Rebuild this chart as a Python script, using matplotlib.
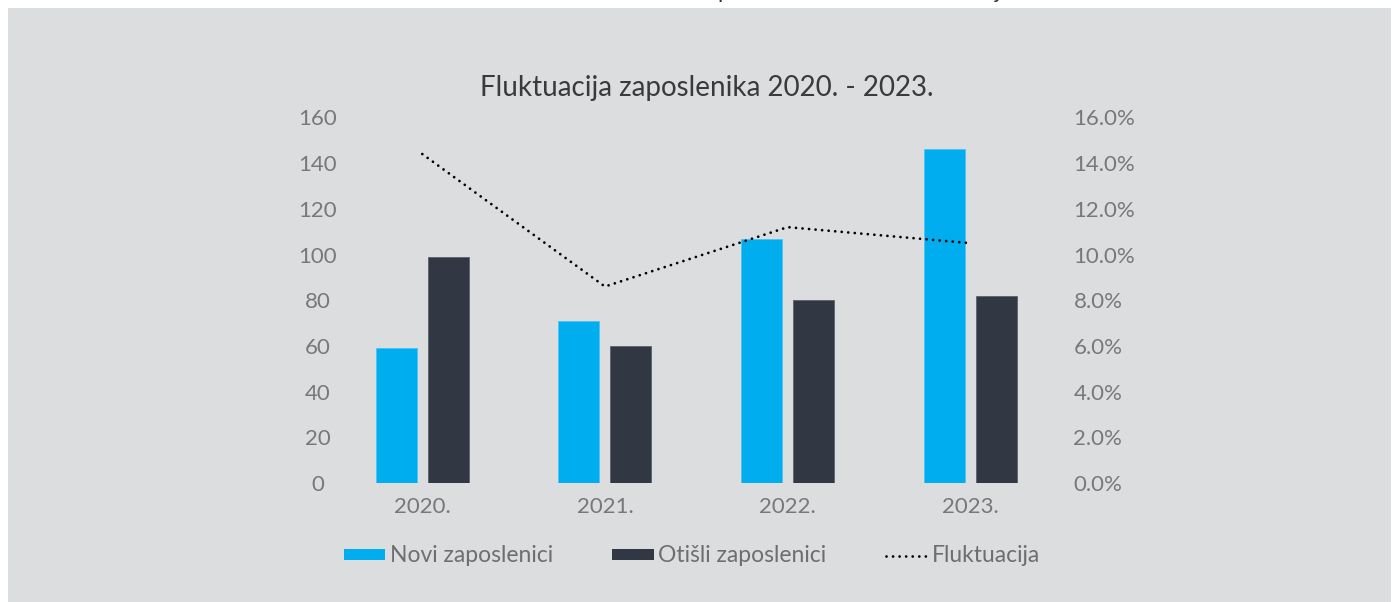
import matplotlib
matplotlib.use("Agg")
import matplotlib.pyplot as plt
from matplotlib.patches import Rectangle
from matplotlib.lines import Line2D
import numpy as np

# ---- data ----
years = ["2020.", "2021.", "2022.", "2023."]
novi_zaposlenici = [59, 71, 107, 146]
otisli_zaposlenici = [99, 60, 80, 82]
fluktuacija = [0.144, 0.086, 0.112, 0.105]
left_ticks = [0, 20, 40, 60, 80, 100, 120, 140, 160]
right_ticks = [0.0, 0.02, 0.04, 0.06, 0.08, 0.10, 0.12, 0.14, 0.16]
title = "Fluktuacija zaposlenika 2020. - 2023."
legend_labels = ["Novi zaposlenici", "Otišli zaposlenici", "Fluktuacija"]

BLUE = "#00ADEE"
DARK = "#323843"
BG = "#DCDDDF"
TICK = "#787878"
FONT = ["Lato", "DejaVu Sans"]
plt.rcParams["font.family"] = FONT

W, H = 1394, 602
fig = plt.figure(figsize=(W / 100, H / 100), dpi=100)
fig.patch.set_facecolor("white")

# grey card background
fig.patches.append(Rectangle((8 / W, 0), (1391 - 8) / W, (H - 8) / H,
                             transform=fig.transFigure, facecolor=BG,
                             edgecolor="none", zorder=-5))
# cropped text descenders at top edge
fig.text(724 / W, 1 + 1.5 / H, "p", fontsize=16, color="#333333", ha="center", va="baseline", zorder=-4)
fig.text(997 / W, 1 + 1.5 / H, "j", fontsize=16, color="#333333", ha="center", va="baseline", zorder=-4)

left, right = 331 / W, 1061.5 / W
bottom, top = (H - 483) / H, (H - 117.5) / H
ax = fig.add_axes([left, bottom, right - left, top - bottom])
ax.set_facecolor("none")
ax2 = ax.twinx()
ax2.set_facecolor("none")

x = np.arange(len(years))
bw = 0.2247
off = 0.1425
ax.bar(x - off, novi_zaposlenici, width=bw, color=BLUE, edgecolor="#4cc3f0", linewidth=0.6, zorder=2)
ax.bar(x + off, otisli_zaposlenici, width=bw, color=DARK, edgecolor="#5b616b", linewidth=0.6, zorder=2)

ax.set_xlim(-0.5, len(years) - 0.5)
ax.set_ylim(0, 160)
ax2.set_ylim(0, 0.16)
ax.set_yticks(left_ticks)
ax.set_yticklabels([str(t) for t in left_ticks])
ax2.set_yticks(right_ticks)
ax2.set_yticklabels([f"{t*100:.1f}%" for t in right_ticks])
ax.set_xticks(x)
ax.set_xticklabels(years)

for a in (ax, ax2):
    for s in a.spines.values():
        s.set_visible(False)
ax.tick_params(axis="y", length=0, pad=9.4, labelsize=16, labelcolor=TICK)
for lbl in ax.get_yticklabels():
    lbl.set_horizontalalignment("center")
ax.tick_params(axis="x", length=0, pad=10, labelsize=16, labelcolor=TICK)
ax2.tick_params(axis="y", length=0, pad=8.6, labelsize=16, labelcolor=TICK)

dots = (0, (0.01, 2.35))
ax2.plot(x, fluktuacija, color="black", linewidth=2.0, linestyle=dots,
         dash_capstyle="round", zorder=3)

fig.text(707 / W, (H - 88) / H, title, fontsize=20, color="#3a3a3a",
         ha="center", va="center")

handles = [Rectangle((0, 0), 1, 1, facecolor=BLUE, edgecolor="none"),
           Rectangle((0, 0), 1, 1, facecolor=DARK, edgecolor="none"),
           Line2D([], [], color="black", linewidth=2.0, linestyle=dots, dash_capstyle="round")]
leg = fig.legend(handles, legend_labels, loc="center", bbox_to_anchor=(692 / W, (H - 556) / H),
                 ncol=3, frameon=False, fontsize=16.5, handlelength=1.8, handleheight=0.4,
                 handletextpad=0.2, columnspacing=2.6, labelcolor="#6e6e6e")

fig.savefig("out.png", dpi=100, facecolor=fig.get_facecolor())
